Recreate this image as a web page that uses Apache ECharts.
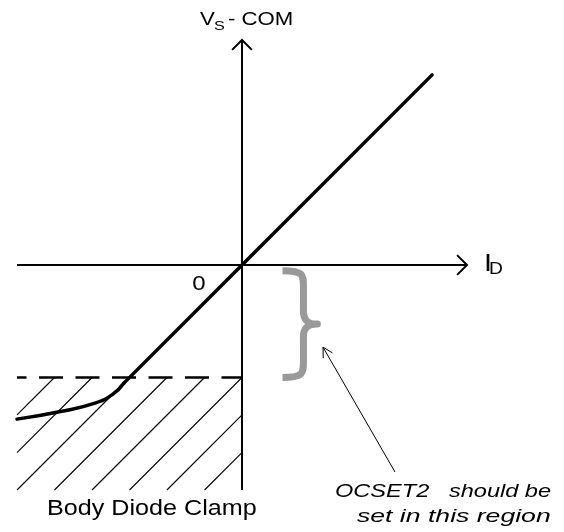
<!DOCTYPE html>
<html>
<head>
<meta charset="utf-8">
<script src="https://cdn.jsdelivr.net/npm/echarts@6/dist/echarts.min.js"></script>
<style>
  html, body { margin: 0; padding: 0; background: #fff; }
  #chart { width: 564px; height: 532px; }
</style>
</head>
<body>
<div id="chart"></div>
<script>
// Plot extent in normalised units (clamp level = -1)
const xRange = [-2, 2];
const yRange = [-2, 2];

// Horizontal (I_D) and vertical (V_S - COM) axes
const xAxisLine = [[-2, 0], [2, 0]];
const yAxisLine = [[0, -2], [0, 2]];
// Arrow tips: [x, y, direction in degrees]
const axisArrows = [[2, 0, 0], [0, 2, 90]];

// Diode knee below the clamp level (smoothed)
const kneeCurve = [
  [-2.0, -1.37], [-1.6, -1.30], [-1.3, -1.225], [-1.15, -1.15], [-1.05, -1.05]
];
// Linear part through zero
const linearPart = [[-1.05, -1.05], [0, 0], [1.69, 1.69]];

// Body diode clamp level (dashed)
const clampLine = [[-2, -1], [0, -1]];

// Hatched clamp region: start x of each 45° hatch line at the bottom edge
const hatchStarts = [-2.667, -2.333, -2.0, -1.667, -1.333, -1.0, -0.667, -0.333];
const hatchBottom = -2;
const hatchTop = -1;

// Brace marking the OCSET2 range: [left end x, tip x], [top y, bottom y]
const braceX = [0.36, 0.67];
const braceY = [-0.05, -1.0];

// Pointer from the note to the brace: [tail], [tip]
const noteArrow = [[1.36, -1.84], [0.72, -0.73]];

const FONT = '"Liberation Sans", Arial, Helvetica, sans-serif';

const chart = echarts.init(document.getElementById('chart'), null, { renderer: 'canvas' });

function chevron(tip, angle, len, half) {
  const a1 = angle + Math.PI - half;
  const a2 = angle + Math.PI + half;
  return [
    [tip[0] + len * Math.cos(a1), tip[1] - len * Math.sin(a1)],
    tip,
    [tip[0] + len * Math.cos(a2), tip[1] - len * Math.sin(a2)]
  ];
}

function label(text, x, y, size, scaleX, opts) {
  opts = opts || {};
  return {
    type: 'text',
    x: x, y: y,
    scaleX: scaleX,
    silent: true,
    style: {
      text: text,
      fill: '#000',
      font: (opts.italic ? 'italic ' : '') + size + 'px ' + FONT,
      textAlign: opts.align || 'left',
      textVerticalAlign: 'middle'
    }
  };
}

const option = {
  backgroundColor: '#ffffff',
  animation: false,
  grid: { left: 17, right: 97, top: 40, bottom: 42 },
  xAxis: { type: 'value', min: xRange[0], max: xRange[1], show: false },
  yAxis: { type: 'value', min: yRange[0], max: yRange[1], show: false },
  series: [
    {
      type: 'line', data: xAxisLine, symbol: 'none', clip: false,
      lineStyle: { color: '#000', width: 2 }, z: 3
    },
    {
      type: 'line', data: yAxisLine, symbol: 'none', clip: false,
      lineStyle: { color: '#000', width: 2 }, z: 3
    },
    {
      type: 'custom', clip: false, z: 3,
      data: axisArrows,
      renderItem: function (params, api) {
        const tip = api.coord([api.value(0), api.value(1)]);
        const ang = api.value(2) * Math.PI / 180;
        return {
          type: 'polyline',
          shape: { points: chevron(tip, ang, 14, Math.PI / 4) },
          style: { stroke: '#000', lineWidth: 2, fill: null }
        };
      }
    },
    {
      type: 'custom', clip: false, z: 1,
      data: hatchStarts.map(function (b) { return [b]; }),
      renderItem: function (params, api) {
        const b = api.value(0);
        const xs = Math.max(b, xRange[0]);
        const xe = Math.min(b + (hatchTop - hatchBottom), 0);
        if (xe <= xs) return;
        const p1 = api.coord([xs, hatchBottom + (xs - b)]);
        const p2 = api.coord([xe, hatchBottom + (xe - b)]);
        return {
          type: 'line',
          shape: { x1: p1[0], y1: p1[1], x2: p2[0], y2: p2[1] },
          style: { stroke: '#000', lineWidth: 1.1 }
        };
      }
    },
    {
      type: 'line', data: clampLine, symbol: 'none', clip: false, z: 2,
      lineStyle: { color: '#000', width: 2.6, type: [24, 12.5], dashOffset: 14.5 }
    },
    {
      type: 'line', data: kneeCurve, symbol: 'none', clip: false, z: 4, smooth: 0.5,
      lineStyle: { color: '#000', width: 3.5, cap: 'round' }
    },
    {
      type: 'line', data: linearPart, symbol: 'none', clip: false, z: 4,
      lineStyle: { color: '#000', width: 3.5, join: 'round', cap: 'round' }
    },
    {
      type: 'custom', clip: false, z: 2,
      data: [[braceX[0], braceY[0], braceX[1], braceY[1]]],
      renderItem: function (params, api) {
        const top = api.coord([api.value(0), api.value(1)]);
        const bot = api.coord([api.value(0), api.value(3)]);
        const tipP = api.coord([api.value(2), (api.value(1) + api.value(3)) / 2]);
        const x0 = top[0], x1 = tipP[0];
        const xm = x0 + 0.6 * (x1 - x0);
        const y0 = top[1], y1 = bot[1], ym = tipP[1];
        const d = [
          'M', x0, y0,
          'C', xm, y0, xm, y0 + 4, xm, y0 + 16,
          'L', xm, ym - 13,
          'C', xm, ym - 4, xm + 4, ym, x1, ym,
          'C', xm + 4, ym, xm, ym + 4, xm, ym + 13,
          'L', xm, y1 - 16,
          'C', xm, y1 - 4, xm, y1, x0, y1
        ].join(' ');
        return {
          type: 'path',
          shape: { pathData: d },
          style: { stroke: '#999999', lineWidth: 7, fill: null, lineJoin: 'round' }
        };
      }
    },
    {
      type: 'custom', clip: false, z: 3,
      data: [[noteArrow[0][0], noteArrow[0][1], noteArrow[1][0], noteArrow[1][1]]],
      renderItem: function (params, api) {
        const tail = api.coord([api.value(0), api.value(1)]);
        const tip = api.coord([api.value(2), api.value(3)]);
        const ang = Math.atan2(-(tip[1] - tail[1]), tip[0] - tail[0]);
        return {
          type: 'group',
          children: [
            {
              type: 'line',
              shape: { x1: tail[0], y1: tail[1], x2: tip[0], y2: tip[1] },
              style: { stroke: '#000', lineWidth: 1 }
            },
            {
              type: 'polyline',
              shape: { points: chevron(tip, ang, 11, 0.5) },
              style: { stroke: '#000', lineWidth: 1, fill: null }
            }
          ]
        };
      }
    }
  ],
  graphic: [
    label('V', 200, 20, 18.5, 1.2),
    label('S', 214, 26.5, 13.5, 1.2),
    label('- COM', 228, 20, 18.5, 1.2),
    label('I', 484, 264, 24, 1.2),
    label('D', 489, 269.5, 16, 1.2),
    label('0', 199, 284.5, 20, 1.2, { align: 'center' }),
    label('Body Diode Clamp', 47, 509.5, 21.5, 1.17),
    label('OCSET2   should be', 335, 491.5, 19, 1.24, { italic: true }),
    label('set in this region', 357, 516.5, 19, 1.4, { italic: true })
  ]
};

chart.setOption(option);
</script>
</body>
</html>
